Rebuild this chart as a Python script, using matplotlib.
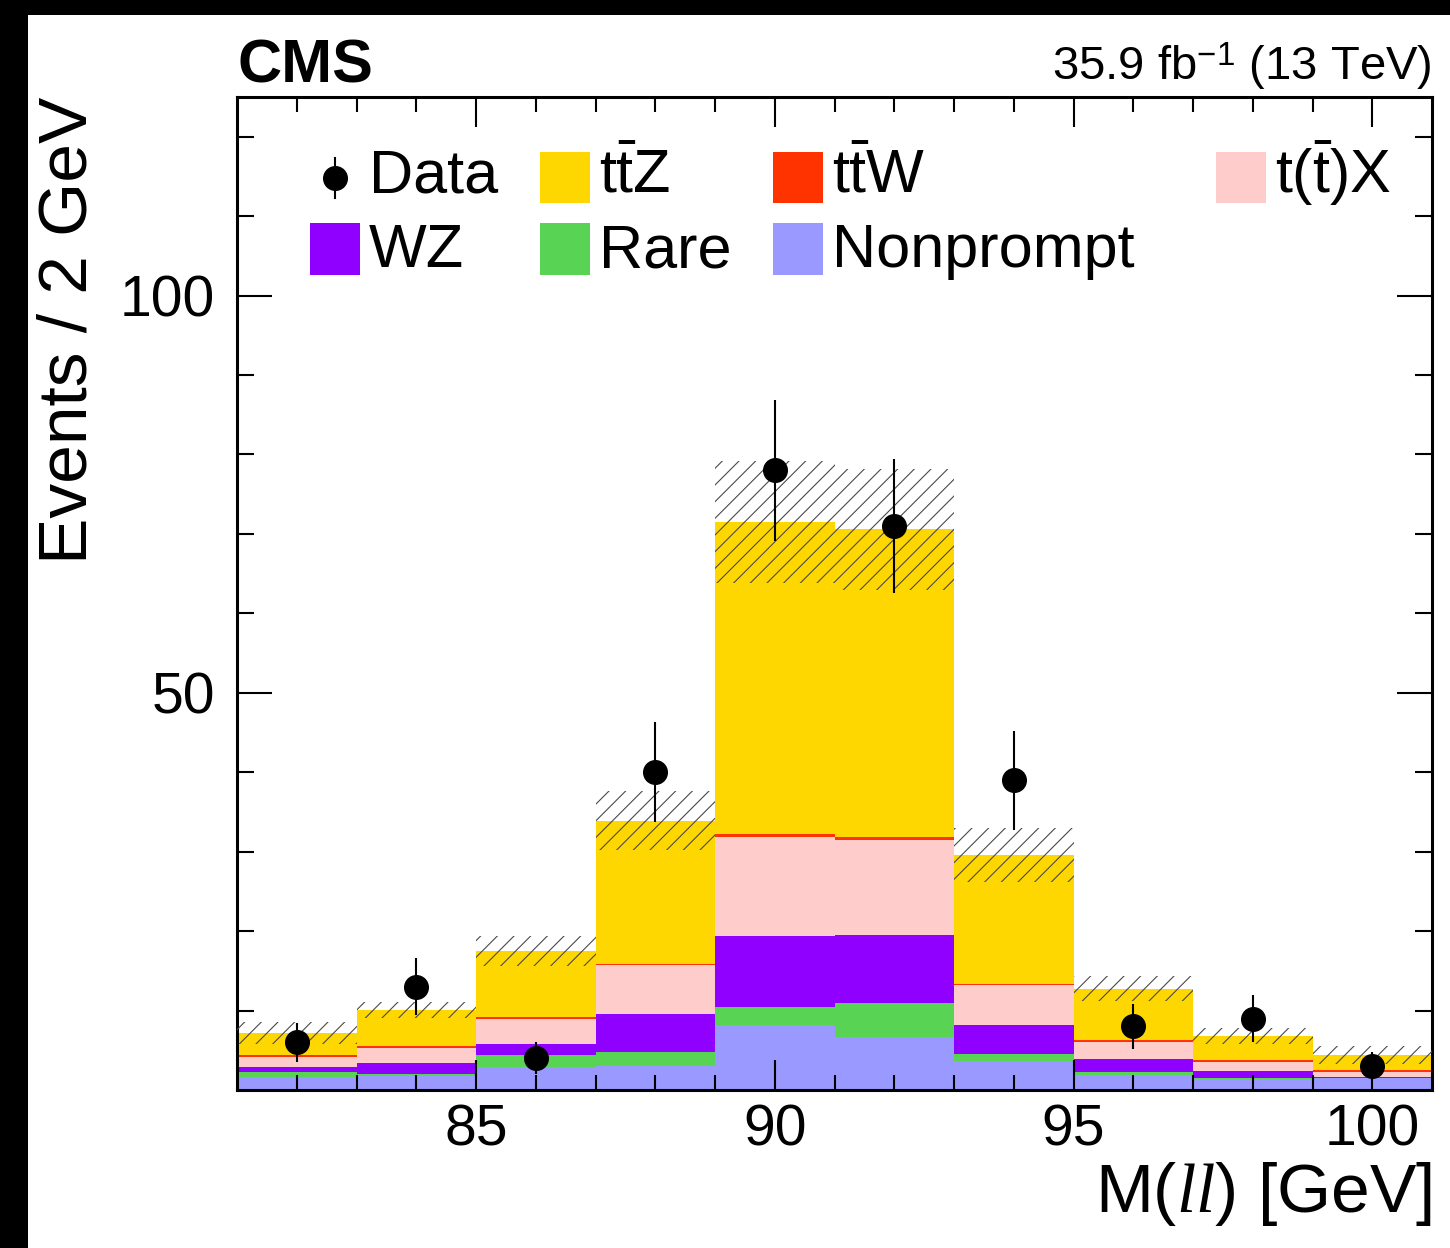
import numpy as np
import matplotlib
matplotlib.use("Agg")
import matplotlib.pyplot as plt
from matplotlib.patches import Rectangle
from matplotlib.lines import Line2D

plt.rcParams['font.family'] = ['Liberation Sans', 'DejaVu Sans']
plt.rcParams['mathtext.fontset'] = 'custom'
plt.rcParams['mathtext.rm'] = 'Liberation Sans'
plt.rcParams['mathtext.it'] = 'Liberation Serif:italic'
plt.rcParams['mathtext.bf'] = 'Liberation Sans:bold'
plt.rcParams['hatch.color'] = '#555555'
plt.rcParams['hatch.linewidth'] = 0.8

# binning: M(ll) in 2 GeV bins
edges = [81, 83, 85, 87, 89, 91, 93, 95, 97, 99, 101]

# stacked backgrounds, bottom to top
nonprompt = [1.68, 1.7, 2.9, 3.0, 8.2, 6.7, 3.65, 1.9, 1.35, 1.47]
rare = [0.6, 0.3, 1.5, 1.8, 2.25, 4.2, 0.85, 0.4, 0.12, 0.08]
wz = [0.6, 1.4, 1.4, 4.8, 8.95, 8.6, 3.7, 1.65, 0.93, 0.1]
ttx = [1.3, 1.9, 3.2, 6.1, 12.5, 12.0, 5.0, 2.15, 1.17, 0.62]
ttw = [0.2, 0.2, 0.2, 0.15, 0.3, 0.4, 0.2, 0.2, 0.23, 0.29]
ttz = [2.8, 4.6, 8.3, 18.05, 39.3, 38.7, 16.2, 6.45, 3.0, 1.84]
syst_unc = [1.4, 1.0, 1.9, 3.7, 7.7, 7.6, 3.4, 1.55, 1.05, 1.1]

data = [6, 13, 4, 40, 78, 71, 39, 8, 9, 3]

stack = [
    (nonprompt, '#9999ff'),
    (rare, '#59d354'),
    (wz, '#9000ff'),
    (ttx, '#ffcccc'),
    (ttw, '#ff3300'),
    (ttz, '#ffd700'),
]

fig = plt.figure(figsize=(14.5, 12.48), dpi=100)
fig.patch.set_facecolor('white')
# black frame strips on the left and top edges
fig.patches.append(Rectangle((0, 0), 28 / 1450, 1, transform=fig.transFigure,
                             facecolor='black', edgecolor='none', zorder=-1))
fig.patches.append(Rectangle((0, 1 - 15 / 1248), 1, 15 / 1248, transform=fig.transFigure,
                             facecolor='black', edgecolor='none', zorder=-1))

ax = fig.add_axes([237 / 1450, 1 - 1090 / 1248, 1195 / 1450, 993 / 1248])

edges = np.array(edges)
bottom = np.zeros(len(edges) - 1)
for vals, col in stack:
    top = bottom + np.array(vals)
    ax.stairs(top, edges, baseline=bottom, fill=True, color=col, lw=0)
    bottom = top

total = bottom
unc = np.array(syst_unc)
ax.stairs(total + unc, edges, baseline=total - unc, fill=True, facecolor='none',
          edgecolor='#4a4a4a', hatch='//', lw=0, zorder=3)

centers = 0.5 * (edges[1:] + edges[:-1])
d = np.array(data)
ax.errorbar(centers, d, yerr=np.sqrt(d), fmt='o', color='black', ms=17,
            elinewidth=1.5, capsize=0, zorder=5)

ax.set_xlim(81, 101)
ax.set_ylim(0, 125)
ax.set_xticks([85, 90, 95, 100])
ax.set_xticks(np.arange(82, 101, 1), minor=True)
ax.set_yticks([50, 100])
ax.set_yticks(np.arange(10, 125, 10), minor=True)
ax.tick_params(which='both', direction='in', top=True, right=True, width=1.5,
               labelsize=41)
ax.tick_params(axis='x', which='major', length=21.5, pad=10)
ax.tick_params(axis='x', which='minor', length=10.8)
ax.tick_params(axis='y', which='major', length=25, pad=16)
ax.tick_params(axis='y', which='minor', length=12.2)
for s in ax.spines.values():
    s.set_linewidth(2.2)

ax.set_xlabel(r'M($\mathit{ll}$) [GeV]', fontsize=50, loc='right')
ax.xaxis.set_label_coords(1.0, -0.07)
ax.set_ylabel('Events / 2 GeV', fontsize=50, loc='top')
ax.yaxis.set_label_coords(-0.114, 1.0)

ax.text(0, 1.015, 'CMS', transform=ax.transAxes, fontsize=44, fontweight='bold',
        ha='left', va='baseline')
ax.text(1, 1.017, r'35.9 fb$^{\mathrm{-1}}$ (13 TeV)', transform=ax.transAxes,
        fontsize=34, ha='right', va='baseline')

# legend, drawn by hand to follow the ROOT layout
def fx(px):
    return (px - 237) / 1195

def fy(py):
    return (1090 - py) / 993

col_x = [310, 540, 773, 1216]
row_box = [(152, 203), (223, 275)]
row_base = [192.5, 267]
entries = [
    ('t$\\mathrm{\\bar{t}}$Z', '#ffd700', 1, 0),
    ('t$\\mathrm{\\bar{t}}$W', '#ff3300', 2, 0),
    ('t($\\mathrm{\\bar{t}}$)X', '#ffcccc', 3, 0),
    ('WZ', '#9000ff', 0, 1),
    ('Rare', '#59d354', 1, 1),
    ('Nonprompt', '#9999ff', 2, 1),
]
for label, col, c, r in entries:
    x0 = col_x[c]
    y0, y1 = row_box[r]
    ax.add_patch(Rectangle((fx(x0), fy(y1)), fx(x0 + 50) - fx(x0), fy(y0) - fy(y1),
                           transform=ax.transAxes, facecolor=col, edgecolor='none',
                           clip_on=False, zorder=6))
    ax.text(fx(x0 + 59), fy(row_base[r]), label, transform=ax.transAxes,
            fontsize=44, ha='left', va='baseline', zorder=6)

ax.add_line(Line2D([fx(335), fx(335)], [fy(158), fy(198)], transform=ax.transAxes,
                   color='black', lw=1.5, zorder=6))
ax.add_line(Line2D([fx(335)], [fy(178)], transform=ax.transAxes, marker='o',
                   ms=17, color='black', zorder=6))
ax.text(fx(369), fy(row_base[0]), 'Data', transform=ax.transAxes,
        fontsize=44, ha='left', va='baseline', zorder=6)

fig.savefig('out.png', dpi=100)
